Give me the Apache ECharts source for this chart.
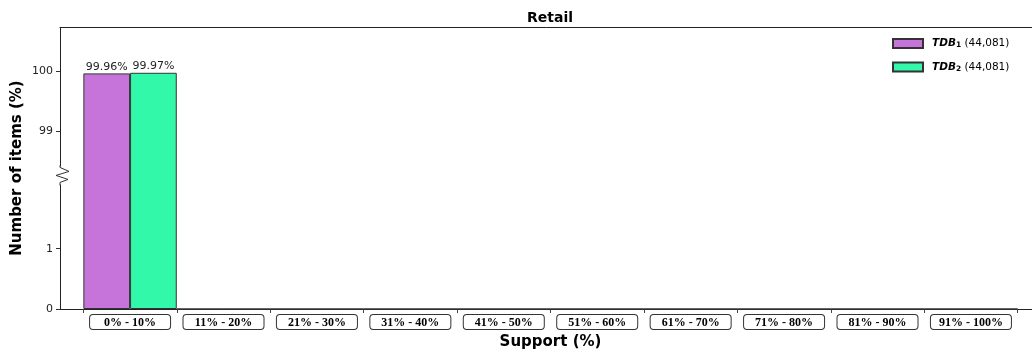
<!DOCTYPE html>
<html>
<head>
<meta charset="utf-8">
<script src="https://cdn.jsdelivr.net/npm/echarts@6/dist/echarts.min.js"></script>
<style>
  html, body { margin: 0; padding: 0; background: #fff; }
  #chart { width: 1032px; height: 353px; }
</style>
</head>
<body>
<div id="chart"></div>
<script>
// Support ranges and the share of items (%) falling into each one
const categories = ['0% - 10%', '11% - 20%', '21% - 30%', '31% - 40%', '41% - 50%',
                    '51% - 60%', '61% - 70%', '71% - 80%', '81% - 90%', '91% - 100%'];
const tdb1 = [99.96, 0, 0, 0, 0, 0, 0, 0, 0, 0];
const tdb2 = [99.97, 0, 0, 0, 0, 0, 0, 0, 0, 0];
const seriesNames = ['TDB1', 'TDB2'];
const seriesSubs = ['1', '2'];
const itemCounts = ['44,081', '44,081'];
const yTickValues = [0, 1, 99, 100];
const yBreak = { start: 2.2, end: 98.25 };

const colors = ['#c674da', '#32f9aa'];
const edge = '#333333';

const chart = echarts.init(document.getElementById('chart'));

function barData(values) {
  return values.map((v, i) => [i + 0.5, v]);
}

const xMin = -0.25, xMax = categories.length + 0.25;

const option = {
  animation: false,
  title: {
    text: 'Retail',
    left: 545, top: 6, textAlign: 'center',
    textStyle: { fontFamily: 'DejaVu Sans', fontSize: 14, fontWeight: 'bold', color: '#000' }
  },
  legend: {
    orient: 'vertical',
    left: 887, top: 33,
    icon: 'rect',
    itemWidth: 30, itemHeight: 9, itemGap: 12,
    data: seriesNames,
    formatter: function (name) {
      const k = seriesNames.indexOf(name);
      return '{b|TDB}{s|' + seriesSubs[k] + '}{n| (' + itemCounts[k] + ')}';
    },
    textStyle: {
      fontFamily: 'DejaVu Sans', fontSize: 10.5, color: '#000',
      rich: {
        b: { fontFamily: 'DejaVu Sans', fontSize: 10.5, fontWeight: 'bold', fontStyle: 'italic', color: '#000', padding: [0, 0, 0, 4] },
        s: { fontFamily: 'DejaVu Sans', fontSize: 7.5, fontWeight: 'bold', color: '#000', verticalAlign: 'bottom', padding: [4, 0, 0, 0] },
        n: { fontFamily: 'DejaVu Sans', fontSize: 10.5, color: '#000' }
      }
    }
  },
  grid: { left: 60, top: 27, width: 981, height: 282, containLabel: false, outerBoundsMode: 'none' },
  xAxis: [
    {
      type: 'value', min: xMin, max: xMax, position: 'bottom',
      name: 'Support (%)', nameLocation: 'middle', nameGap: 24,
      nameTextStyle: { fontFamily: 'DejaVu Sans', fontSize: 15, fontWeight: 'bold', color: '#000' },
      splitLine: { show: false },
      axisLine: { show: true, onZero: false, lineStyle: { color: '#222', width: 1 } },
      axisTick: { show: true, length: 4, customValues: categories.map((c, i) => i).concat([categories.length]),
                  lineStyle: { color: '#444' } },
      axisLabel: {
        customValues: categories.map((c, i) => i + 0.5),
        formatter: v => categories[Math.round(v - 0.5)] || '',
        margin: 6,
        fontFamily: 'Liberation Serif', fontWeight: 'bold', fontSize: 12, color: '#000',
        width: 72, align: 'center', lineHeight: 13,
        padding: [1, 4, 0, 4],
        borderColor: '#333', borderWidth: 1, borderRadius: 3, backgroundColor: '#fff'
      }
    },
    {
      type: 'value', min: xMin, max: xMax, position: 'top',
      axisLine: { show: true, onZero: false, lineStyle: { color: '#222', width: 1 } },
      axisTick: { show: false }, axisLabel: { show: false }, splitLine: { show: false }
    }
  ],
  yAxis: {
    type: 'value', min: 0, max: 100.73,
    breaks: [{ start: yBreak.start, end: yBreak.end, gap: 0 }],
    breakArea: { show: false },
    name: 'Number of items (%)', nameLocation: 'middle', nameGap: 35, nameMoveOverlap: false,
    nameTextStyle: { fontFamily: 'DejaVu Sans', fontSize: 15, fontWeight: 'bold', color: '#000' },
    splitLine: { show: false },
    axisLine: { show: true, onZero: false, lineStyle: { color: '#222', width: 1 } },
    axisTick: { show: true, length: 4, customValues: yTickValues, lineStyle: { color: '#333' } },
    axisLabel: { customValues: yTickValues, margin: 7,
                 fontFamily: 'DejaVu Sans', fontSize: 11, color: '#222' }
  },
  series: [tdb1, tdb2].map((vals, k) => ({
    name: seriesNames[k],
    type: 'bar',
    xAxisIndex: 0,
    barWidth: 46.7,
    barGap: '0%',
    data: barData(vals),
    itemStyle: { color: colors[k], borderColor: edge, borderWidth: 1 },
    label: {
      show: true, position: 'top', distance: 1,
      fontFamily: 'DejaVu Sans', fontSize: 11, color: '#222',
      formatter: p => (p.value[1] > 0 ? p.value[1].toFixed(2) + '%' : '')
    }
  }))
};

chart.setOption(option);

// Zigzag marker on the y-axis line where the value range is broken
const yA = chart.convertToPixel({ yAxisIndex: 0 }, yBreak.start);
const yB = chart.convertToPixel({ yAxisIndex: 0 }, yBreak.end);
const yc = (yA + yB) / 2 - 1;
const x0 = chart.convertToPixel({ xAxisIndex: 0 }, xMin);
chart.setOption({
  graphic: [
    { type: 'rect', z: 100, shape: { x: x0 - 4, y: yc - 9, width: 8, height: 18 },
      style: { fill: '#fff' } },
    { type: 'polyline', z: 101,
      shape: { points: [[x0, yc - 10], [x0, yc - 8], [x0 + 9, yc - 4], [x0 - 4, yc], [x0 + 8, yc + 4], [x0, yc + 7], [x0, yc + 10]] },
      style: { stroke: '#333', lineWidth: 1, fill: null } }
  ]
});
</script>
</body>
</html>
